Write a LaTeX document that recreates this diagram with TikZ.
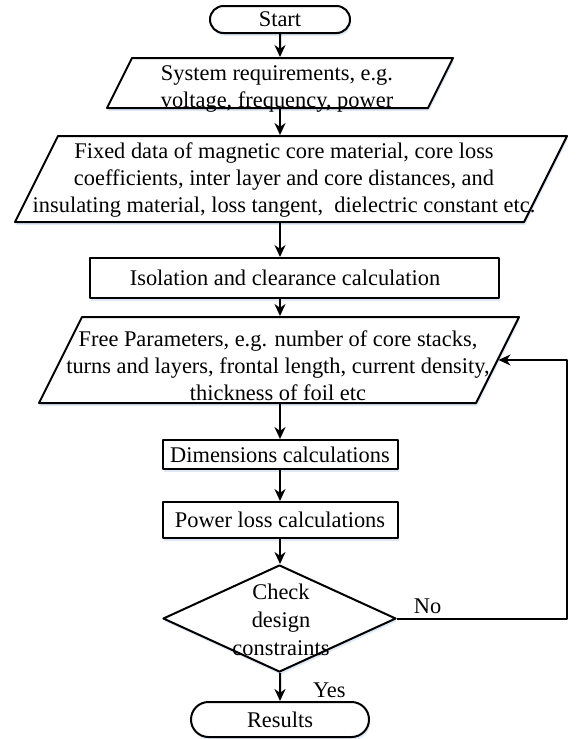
\documentclass[tikz,border=0pt]{standalone}
\usepackage{fontspec}
\setmainfont{Liberation Serif}
\usepackage{tikz}
\usetikzlibrary{arrows.meta,shapes.geometric,shapes.misc,shadows}
\definecolor{glow}{HTML}{C9DAF0}
\tikzset{
  every picture/.style={font=\fontsize{11.2}{13.6}\selectfont, line join=round, >=Stealth},
  flowline/.style={line width=1pt},
  soft/.style={fill=white, drop shadow={fill=glow, opacity=0.6, shadow xshift=0.6pt, shadow yshift=-1.4pt}},
  terminal/.style={rounded rectangle, draw, flowline, soft, inner sep=0pt},
  io/.style={rectangle, xslant=0.5, draw, flowline, soft, inner sep=0pt},
  process/.style={rectangle, draw, flowline, soft, inner sep=0pt},
  decision/.style={diamond, draw, flowline, soft, inner sep=0pt},
  txt/.style={align=center, inner sep=0pt},
  arr/.style={flowline, -{Stealth[length=6pt,width=5.5pt]}},
}

\begin{document}
\begin{tikzpicture}[x=0.5pt,y=-0.5pt]
\useasboundingbox (0,0) rectangle (577,739);
% boxes
\node[terminal,minimum width=70pt,minimum height=13.5pt] (start) at (280,19.5) {Start};
\node[io,minimum width=160.5pt,minimum height=25pt] (sysreq) at (280,83) {};
\node[txt] (sysreqtxt) at (277,89) {System requirements, e.g.\\ voltage, frequency, power};
\node[io,minimum width=254.5pt,minimum height=43pt] (fixed) at (291,179) {};
\node[txt] (fixedtxt) at (284,180) {Fixed data of magnetic core material, core loss\\
  coefficients, inter layer and core distances, and\\
  insulating material, loss tangent,\ \ dielectric constant etc.};
\node[process,minimum width=204.5pt,minimum height=20pt] (iso) at (294.5,278) {};
\node[txt] (isotxt) at (285,278) {Isolation and clearance calculation};
\node[io,minimum width=218.5pt,minimum height=43pt] (free) at (279,360) {};
\node[txt] (freetxt) at (278,366) {Free Parameters, e.g. number of core stacks,\\
  turns and layers, frontal length, current density,\\ thickness of foil etc};
\node[process,minimum width=117.5pt,minimum height=14.5pt] (dim) at (280,454.5) {Dimensions calculations};
\node[process,minimum width=117.5pt,minimum height=18pt] (power) at (280,520) {Power loss calculations};
\node[decision,minimum width=116.5pt,minimum height=53.5pt] (check) at (279.5,618.5) {};
\node[txt,font=\fontsize{11.2}{14}\selectfont] (checktxt) at (281,620) {Check\\ design\\ constraints};
\node[terminal,minimum width=89pt,minimum height=17.5pt] (results) at (280,719.5) {Results};
\coordinate (loop) at (567,618.5);
% connectors
\draw[arr] (start) -- (start |- sysreq.north);
\draw[arr] (start |- sysreq.south) -- (start |- fixed.north);
\draw[arr] (start |- fixed.south) -- (start |- iso.north);
\draw[arr] (start |- iso.south) -- (start |- free.north);
\draw[arr] (start |- free.south) -- (dim);
\draw[arr] (dim) -- (power);
\draw[arr] (power) -- (start |- check.north);
\draw[arr] (start |- check.south) -- (results) node[pos=0.6,right=16pt,inner sep=0pt]{Yes};
\draw[arr] (check.east) -- (loop) node[pos=0.18,above,inner sep=2pt]{No} |- (free.east);
\end{tikzpicture}
\end{document}
